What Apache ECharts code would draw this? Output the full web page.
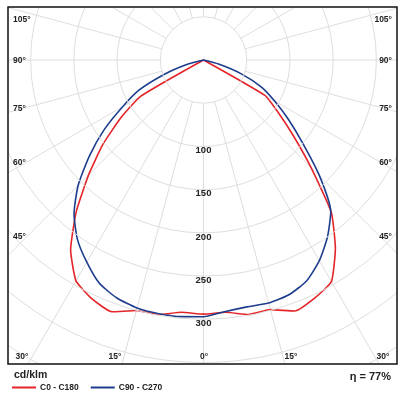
<!DOCTYPE html>
<html>
<head>
<meta charset="utf-8">
<script src="https://cdn.jsdelivr.net/npm/echarts@6/dist/echarts.min.js"></script>
<style>
  html, body { margin: 0; padding: 0; background: #fff; }
  #chart { width: 406px; height: 399px; }
</style>
</head>
<body>
<div id="chart"></div>
<script>
// gamma angle from nadir (deg), intensities in cd/klm (halves end where they reach 0)
var gamma = [0, 5, 10, 15, 20, 25, 30, 35, 40, 45, 50, 55, 60, 65, 70, 75, 80];
var c0   = [294, 293, 299, 300, 310, 305, 295, 268, 229, 188, 152, 117, 84, 0];
var c180 = [294, 293, 299, 299, 309, 304, 296, 266, 230, 176, 135, 105, 82, 0];
var c90  = [297, 298, 298, 297, 293, 285, 270, 254, 233, 205, 172, 140, 108, 82, 48, 20, 0];
var c270 = [297, 292, 290, 291, 289, 282, 268, 250, 229, 190, 150, 120, 95, 74, 46, 18, 0];

var ringLabels = [100, 150, 200, 250, 300];
var sideLabels = ['105°', '90°', '75°', '60°', '45°'];
var bottomLabels = ['30°', '15°', '0°', '15°', '30°'];
var efficiency = 'η = 77%';
var unit = 'cd/klm';

var FONT = 'Liberation Sans, Arial, sans-serif';
var GRID = '#dedede';
var INNER = 50, OUTER = 450;

// left half uses the angle as is, right half mirrored (360 - gamma)
function curve(left, right) {
  var pts = [];
  for (var i = left.length - 1; i >= 0; i--) pts.push([left[i], gamma[i]]);
  for (var j = 1; j < right.length; j++) pts.push([right[j], 360 - gamma[j]]);
  return pts;
}

var spokes = [];
for (var a = 0; a < 360; a += 15) spokes.push([INNER, a]);

var chart = echarts.init(document.getElementById('chart'));

var graphics = [
  // white masks outside the frame
  {type: 'rect', shape: {x: 0, y: 0, width: 406, height: 7}, style: {fill: '#fff'}, z: 100},
  {type: 'rect', shape: {x: 0, y: 0, width: 8, height: 399}, style: {fill: '#fff'}, z: 100},
  {type: 'rect', shape: {x: 397, y: 0, width: 9, height: 399}, style: {fill: '#fff'}, z: 100},
  {type: 'rect', shape: {x: 0, y: 364, width: 406, height: 35}, style: {fill: '#fff'}, z: 100},
  {type: 'rect', shape: {x: 8, y: 7, width: 389, height: 357}, style: {fill: 'none', stroke: '#111', lineWidth: 1.5}, z: 101},
  {type: 'text', left: 14, top: 370, style: {text: unit, font: 'bold 10.5px ' + FONT, fill: '#222'}, z: 102},
  {type: 'text', right: 15, top: 371, style: {text: efficiency, font: 'bold 11px ' + FONT, fill: '#222'}, z: 102}
];

var sideY = [20, 61, 109, 163, 237];
sideLabels.forEach(function (t, i) {
  graphics.push({type: 'text', x: 13, y: sideY[i], style: {text: t, font: 'bold 8.5px ' + FONT, fill: '#222', verticalAlign: 'middle', align: 'left'}, z: 102});
  graphics.push({type: 'text', x: 392, y: sideY[i], style: {text: t, font: 'bold 8.5px ' + FONT, fill: '#222', verticalAlign: 'middle', align: 'right'}, z: 102});
});
var bottomX = [22, 115, 204, 291, 383];
bottomLabels.forEach(function (t, i) {
  graphics.push({type: 'text', x: bottomX[i], y: 357, style: {text: t, font: 'bold 8.5px ' + FONT, fill: '#222', verticalAlign: 'middle', align: 'center'}, z: 102});
});

var option = {
  animation: false,
  backgroundColor: '#fff',
  polar: {center: [203.5, 60], radius: 389},
  angleAxis: {
    type: 'value', min: 0, max: 360, interval: 15,
    startAngle: 270, clockwise: true,
    axisLine: {show: false}, axisTick: {show: false}, axisLabel: {show: false},
    splitLine: {show: false}
  },
  radiusAxis: {
    type: 'value', min: 0, max: OUTER, interval: 50,
    axisLine: {show: false}, axisTick: {show: false},
    splitLine: {show: true, lineStyle: {color: GRID, width: 1}},
    axisLabel: {
      show: true, margin: 0, align: 'center', verticalAlign: 'top', lineHeight: 8,
      fontFamily: FONT, fontWeight: 'bold', fontSize: 9.5, color: '#222',
      formatter: function (v) { return ringLabels.indexOf(v) >= 0 ? String(v) : ''; }
    },
    z: 5
  },
  legend: {
    left: 12, top: 383, padding: 0, itemGap: 12, itemWidth: 24, itemHeight: 2,
    icon: 'rect', z: 200,
    textStyle: {fontFamily: FONT, fontWeight: 'bold', fontSize: 8.5, color: '#222', padding: [0, 0, 0, -1]},
    data: ['C0 - C180', 'C90 - C270']
  },
  graphic: graphics,
  series: [
    {
      type: 'custom', coordinateSystem: 'polar', silent: true, z: 1,
      data: spokes,
      renderItem: function (params, api) {
        var p0 = api.coord([INNER, api.value(1)]);
        var p1 = api.coord([OUTER, api.value(1)]);
        return {type: 'line', shape: {x1: p0[0], y1: p0[1], x2: p1[0], y2: p1[1]}, style: {stroke: GRID, lineWidth: 1}};
      }
    },
    {
      name: 'C0 - C180', type: 'line', coordinateSystem: 'polar', showSymbol: false, symbol: 'none',
      smooth: 0.15,
      data: curve(c0, c180), lineStyle: {color: '#e42529', width: 1.6}, itemStyle: {color: '#e42529'}, z: 3
    },
    {
      name: 'C90 - C270', type: 'line', coordinateSystem: 'polar', showSymbol: false, symbol: 'none',
      smooth: 0.2,
      data: curve(c90, c270), lineStyle: {color: '#1d3d8c', width: 1.6}, itemStyle: {color: '#1d3d8c'}, z: 4
    }
  ]
};

chart.setOption(option);
</script>
</body>
</html>
